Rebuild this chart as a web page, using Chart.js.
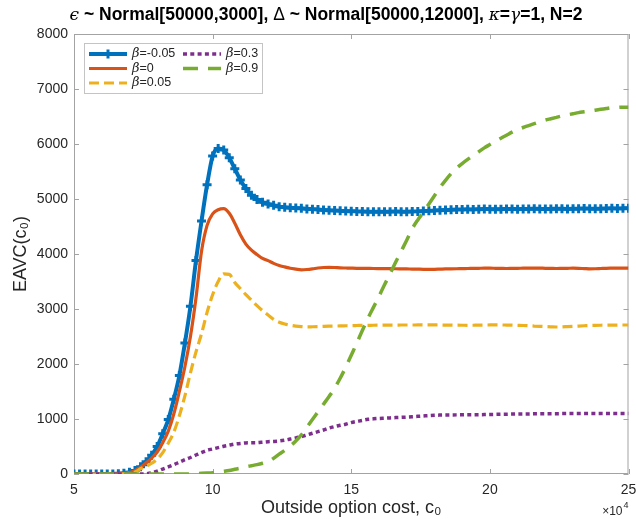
<!DOCTYPE html>
<html>
<head>
<meta charset="utf-8">
<script src="https://cdn.jsdelivr.net/npm/chart.js@4.4.1/dist/chart.umd.min.js"></script>
<style>
  html, body { margin: 0; padding: 0; background: #fff; }
  canvas { display: block; }
</style>
</head>
<body>
<canvas id="chart" width="636" height="519"></canvas>
<script>
// outside option cost c0, in units of 10^4
const c0 = [
  5, 5.2, 5.4, 5.6, 5.8,
  6, 6.2, 6.4, 6.6, 6.8,
  7, 7.2, 7.4, 7.6, 7.8,
  8, 8.2, 8.4, 8.6, 8.8,
  9, 9.2, 9.4, 9.6, 9.8,
  10, 10.2, 10.4, 10.6, 10.8,
  11, 11.2, 11.4, 11.6, 11.8,
  12, 12.2, 12.4, 12.6, 12.8,
  13, 13.2, 13.4, 13.6, 13.8,
  14, 14.2, 14.4, 14.6, 14.8,
  15, 15.2, 15.4, 15.6, 15.8,
  16, 16.2, 16.4, 16.6, 16.8,
  17, 17.2, 17.4, 17.6, 17.8,
  18, 18.2, 18.4, 18.6, 18.8,
  19, 19.2, 19.4, 19.6, 19.8,
  20, 20.2, 20.4, 20.6, 20.8,
  21, 21.2, 21.4, 21.6, 21.8,
  22, 22.2, 22.4, 22.6, 22.8,
  23, 23.2, 23.4, 23.6, 23.8,
  24, 24.2, 24.4, 24.6, 24.8,
  25
];

const betaNeg005 = [
  0, 0, 0, 0, 0,
  0, 0, 2, 6, 15,
  30, 65, 130, 225, 340,
  500, 730, 990, 1360, 1790,
  2380, 3050, 3880, 4600, 5260,
  5780, 5920, 5890, 5750, 5550,
  5345, 5190, 5070, 4990, 4940,
  4910, 4885, 4860, 4850, 4840,
  4835, 4830, 4820, 4815, 4810,
  4800, 4795, 4790, 4785, 4780,
  4778, 4775, 4772, 4770, 4770,
  4770, 4768, 4770, 4772, 4770,
  4770, 4772, 4775, 4780, 4785,
  4790, 4795, 4800, 4805, 4808,
  4810, 4812, 4810, 4815, 4818,
  4815, 4812, 4815, 4820, 4818,
  4815, 4818, 4820, 4822, 4820,
  4818, 4820, 4825, 4822, 4820,
  4822, 4825, 4828, 4825, 4822,
  4825, 4828, 4830, 4828, 4830,
  4832
];

const beta0 = [
  0, 0, 0, 0, 0,
  0, 0, 0, 3, 10,
  25, 60, 120, 200, 290,
  400, 570, 780, 1090, 1500,
  1950, 2500, 3200, 4050, 4520,
  4730, 4805, 4825, 4740, 4560,
  4350, 4180, 4070, 3990, 3920,
  3880, 3830, 3790, 3765, 3740,
  3725, 3712, 3718, 3730, 3745,
  3755, 3758, 3755, 3748, 3745,
  3742, 3740, 3740, 3738, 3736,
  3735, 3734, 3733, 3732, 3730,
  3728, 3726, 3724, 3722, 3721,
  3722, 3725, 3728, 3730, 3732,
  3734, 3736, 3738, 3740, 3742,
  3742, 3740, 3738, 3736, 3738,
  3740, 3742, 3744, 3745, 3743,
  3740, 3738, 3736, 3738, 3740,
  3742, 3740, 3735, 3730, 3732,
  3736, 3740, 3742, 3744, 3745,
  3745
];

const beta005 = [
  0, 0, 0, 0, 0,
  0, 0, 0, 0, 5,
  15, 35, 95, 140, 195,
  270, 390, 560, 760, 1060,
  1420, 1840, 2220, 2550, 2940,
  3260, 3500, 3640, 3630, 3480,
  3370, 3260, 3160, 3060, 2970,
  2890, 2810, 2760, 2727, 2705,
  2690, 2680, 2675, 2677, 2680,
  2685, 2688, 2690, 2692, 2695,
  2698, 2700, 2702, 2703, 2705,
  2706, 2707, 2708, 2708, 2709,
  2709, 2709, 2710, 2710, 2710,
  2710, 2709, 2708, 2707, 2706,
  2705, 2704, 2705, 2706, 2708,
  2710, 2711, 2710, 2708, 2706,
  2703, 2700, 2695, 2690, 2685,
  2680, 2676, 2673, 2675, 2680,
  2685, 2690, 2695, 2700, 2703,
  2705, 2706, 2707, 2708, 2709,
  2709
];

const beta03 = [
  0, 0, 0, 0, 0,
  0, 0, 0, 0, 0,
  0, 0, 0, 5, 20,
  50, 90, 130, 170, 215,
  260, 300, 345, 390, 430,
  455, 480, 505, 525, 545,
  555, 565, 567, 570, 578,
  587, 592, 600, 615, 635,
  655, 680, 710, 740, 770,
  800, 835, 862, 885, 905,
  935, 955, 975, 994, 1003,
  1010, 1015, 1020, 1026, 1030,
  1035, 1040, 1048, 1055, 1062,
  1068, 1071, 1073, 1074, 1075,
  1076, 1077, 1078, 1079, 1080,
  1082, 1084, 1086, 1088, 1090,
  1091, 1092, 1093, 1094, 1095,
  1096, 1097, 1097, 1098, 1099,
  1100, 1100, 1100, 1100, 1100,
  1100, 1100, 1100, 1100, 1100,
  1100
];

const beta09 = [
  0, 0, 0, 0, 0,
  0, 0, 0, 0, 0,
  0, 0, 0, 0, 0,
  0, 0, 0, 0, 0,
  0, 3, 7, 12, 18,
  25, 37, 50, 65, 85,
  105, 130, 150, 170, 195,
  225, 285, 360, 430, 510,
  600, 710, 850, 990, 1130,
  1270, 1410, 1560, 1740, 1940,
  2160, 2380, 2610, 2830, 3030,
  3230, 3440, 3640, 3850, 4050,
  4250, 4460, 4620, 4760, 4910,
  5060, 5210, 5340, 5460, 5560,
  5645, 5720, 5790, 5860, 5930,
  5990, 6050, 6105, 6160, 6215,
  6260, 6300, 6335, 6370, 6405,
  6435, 6460, 6485, 6510, 6530,
  6550, 6570, 6585, 6600, 6615,
  6630, 6645, 6660, 6665, 6670,
  6670
];

const betaValues = ["-0.05", "0", "0.05", "0.3", "0.9"];
const xTicks = [5, 10, 15, 20, 25];
const yTicks = [0, 1000, 2000, 3000, 4000, 5000, 6000, 7000, 8000];

const SANS = "'Liberation Sans', Arial, Helvetica, sans-serif";
const SERIF = "'DejaVu Serif', 'Liberation Serif', serif";
const TEXT = "#262626";
const BOX = "#a3a3a3";

function pts(ys) {
  return c0.map((x, i) => ({ x: x, y: ys[i] }));
}

// axes box with inward ticks on all four sides (drawn under the lines)
const axesBox = {
  id: "axesBox",
  beforeDatasetsDraw(chart) {
    const { ctx, chartArea: a, scales } = chart;
    ctx.save();
    ctx.strokeStyle = BOX;
    ctx.lineWidth = 1;
    ctx.strokeRect(a.left + 0.5, a.top + 0.5, a.right - a.left - 1, a.bottom - a.top - 1);
    ctx.beginPath();
    xTicks.forEach(v => {
      const px = Math.round(scales.x.getPixelForValue(v)) + 0.5;
      ctx.moveTo(px, a.bottom); ctx.lineTo(px, a.bottom - 5);
      ctx.moveTo(px, a.top); ctx.lineTo(px, a.top + 5);
    });
    yTicks.forEach(v => {
      const py = Math.round(scales.y.getPixelForValue(v)) + 0.5;
      ctx.moveTo(a.left, py); ctx.lineTo(a.left + 5, py);
      ctx.moveTo(a.right, py); ctx.lineTo(a.right - 5, py);
    });
    ctx.stroke();
    ctx.restore();
  },
  afterDraw(chart) {
    // x10^4 exponent label under the right end of the x axis
    const { ctx, chartArea: a } = chart;
    ctx.save();
    ctx.fillStyle = TEXT;
    ctx.textBaseline = "alphabetic";
    ctx.textAlign = "right";
    ctx.font = "12px " + SANS;
    ctx.fillText("\u00d710", a.right - 6, 515);
    ctx.textAlign = "left";
    ctx.font = "9px " + SANS;
    ctx.fillText("4", a.right - 5, 508);
    ctx.restore();
  }
};

// title with mixed fonts (greek symbols italic, rest bold)
const mixedTitle = {
  id: "mixedTitle",
  afterDraw(chart) {
    const ctx = chart.ctx;
    const bold = "bold 17.5px " + SANS;
    const ital = "italic 17px " + SERIF;
    const plain = "17.5px " + SANS;
    const parts = [
      ["\u03f5", ital], [" ~ Normal[50000,3000], ", bold],
      ["\u0394", plain], [" ~ Normal[50000,12000], ", bold],
      ["\u03ba", ital], ["=", bold], ["\u03b3", ital], ["=1, N=2", bold]
    ];
    ctx.save();
    let total = 0;
    parts.forEach(p => { ctx.font = p[1]; total += ctx.measureText(p[0]).width; });
    let x = 326 - total / 2;
    ctx.fillStyle = "#000";
    ctx.textBaseline = "alphabetic";
    ctx.textAlign = "left";
    parts.forEach(p => {
      ctx.font = p[1];
      ctx.fillText(p[0], x, 20);
      x += ctx.measureText(p[0]).width;
    });
    ctx.restore();
  }
};

// legend in a box, two columns (column-major like the original)
const boxLegend = {
  id: "boxLegend",
  afterDraw(chart) {
    const { ctx, chartArea: a } = chart;
    const bx = a.left + 10, by = a.top + 9, bw = 178, bh = 50;
    ctx.save();
    ctx.fillStyle = "#fff";
    ctx.fillRect(bx, by, bw, bh);
    ctx.strokeStyle = "#c4c4c4";
    ctx.lineWidth = 1;
    ctx.strokeRect(bx + 0.5, by + 0.5, bw, bh);
    chart.data.datasets.forEach((ds, i) => {
      const col = i < 3 ? 0 : 1;
      const row = i % 3;
      const x0 = bx + 5 + col * 94;
      const y = by + 11 + row * 14.5;
      ctx.strokeStyle = ds.borderColor;
      ctx.lineWidth = ds.borderWidth;
      ctx.setLineDash(ds.borderDash || []);
      ctx.lineCap = "butt";
      ctx.beginPath();
      ctx.moveTo(x0, y); ctx.lineTo(x0 + 38, y);
      ctx.stroke();
      ctx.setLineDash([]);
      if (ds.pointStyle === "cross") {
        ctx.lineWidth = ds.pointBorderWidth;
        ctx.beginPath();
        ctx.moveTo(x0 + 19, y - ds.pointRadius); ctx.lineTo(x0 + 19, y + ds.pointRadius);
        ctx.moveTo(x0 + 19 - ds.pointRadius, y); ctx.lineTo(x0 + 19 + ds.pointRadius, y);
        ctx.stroke();
      }
      ctx.fillStyle = TEXT;
      ctx.textBaseline = "middle";
      ctx.textAlign = "left";
      ctx.font = "italic 13px " + SERIF;
      ctx.fillText("\u03b2", x0 + 43, y);
      const w = ctx.measureText("\u03b2").width;
      ctx.font = "12.5px " + SANS;
      ctx.fillText("=" + betaValues[i], x0 + 43 + w, y);
    });
    ctx.restore();
  }
};

const common = { fill: false, pointRadius: 0, cubicInterpolationMode: "monotone", borderCapStyle: "butt" };

new Chart(document.getElementById("chart"), {
  type: "line",
  data: {
    datasets: [
      Object.assign({}, common, {
        label: "\u03b2=" + betaValues[0], data: pts(betaNeg005),
        borderColor: "#0072BD", backgroundColor: "#0072BD", borderWidth: 4,
        pointStyle: "cross", pointRadius: 4.5, pointBorderWidth: 3, order: 5
      }),
      Object.assign({}, common, {
        label: "\u03b2=" + betaValues[1], data: pts(beta0),
        borderColor: "#D95319", borderWidth: 3.2, order: 4
      }),
      Object.assign({}, common, {
        label: "\u03b2=" + betaValues[2], data: pts(beta005),
        borderColor: "#EDB120", borderWidth: 3.2, borderDash: [10, 5], order: 3
      }),
      Object.assign({}, common, {
        label: "\u03b2=" + betaValues[3], data: pts(beta03),
        borderColor: "#7E2F8E", borderWidth: 3.5, borderDash: [4, 3.3], order: 2
      }),
      Object.assign({}, common, {
        label: "\u03b2=" + betaValues[4], data: pts(beta09),
        borderColor: "#77AC30", borderWidth: 3.5, borderDash: [15, 10], order: 1
      })
    ]
  },
  options: {
    responsive: false,
    animation: false,
    devicePixelRatio: 1,
    layout: { padding: { top: 34, right: 2, left: 0, bottom: 0 } },
    plugins: {
      legend: { display: false },
      title: { display: false },
      tooltip: { enabled: false }
    },
    scales: {
      x: {
        type: "linear", min: 5, max: 25,
        afterBuildTicks: s => { s.ticks = xTicks.map(v => ({ value: v })); },
        ticks: { color: TEXT, font: { family: SANS, size: 14 }, padding: 8, maxRotation: 0,
                 callback: v => String(v) },
        grid: { display: false, drawTicks: false },
        border: { display: false },
        title: {
          display: true, text: "Outside option cost, c\u2080",
          color: TEXT, font: { family: SANS, size: 18 }, padding: { top: 0, bottom: 0 }
        },
        afterFit: s => { s.height = 45; s.paddingLeft = 0; s.paddingRight = 0; }
      },
      y: {
        min: 0, max: 8000,
        afterBuildTicks: s => { s.ticks = yTicks.map(v => ({ value: v })); },
        ticks: { color: TEXT, font: { family: SANS, size: 14 }, padding: 6,
                 callback: v => String(v) },
        grid: { display: false, drawTicks: false },
        border: { display: false },
        title: {
          display: true, text: "EAVC(c\u2080)",
          color: TEXT, font: { family: SANS, size: 18 }, padding: { top: 10, bottom: 0 }
        },
        afterFit: s => { s.width = 74; s.paddingTop = 0; s.paddingBottom = 0; }
      }
    }
  },
  plugins: [axesBox, mixedTitle, boxLegend]
});
</script>
</body>
</html>
